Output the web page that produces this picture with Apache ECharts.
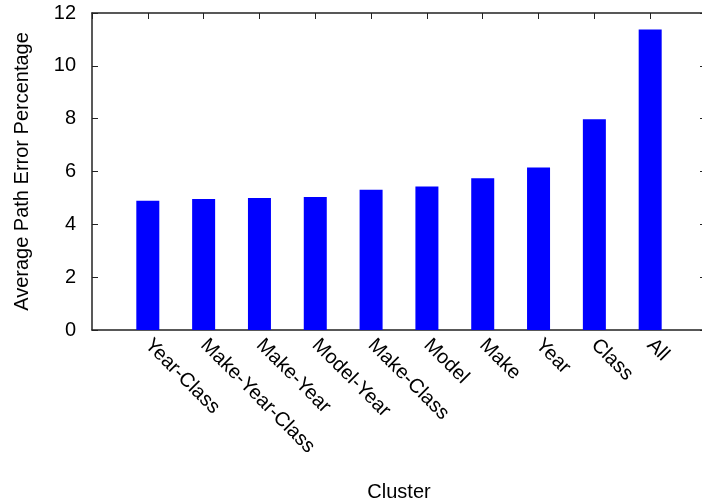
<!DOCTYPE html>
<html>
<head>
<meta charset="utf-8">
<script src="https://cdn.jsdelivr.net/npm/echarts@6/dist/echarts.min.js"></script>
<style>
  html, body { margin: 0; padding: 0; background: #fff; }
  #chart { width: 702px; height: 504px; }
</style>
</head>
<body>
<div id="chart"></div>
<script>
// clusters, in plot order
var clusters = ['Year-Class', 'Make-Year-Class', 'Make-Year', 'Model-Year', 'Make-Class', 'Model', 'Make', 'Year', 'Class', 'All'];
var avgPathError = [4.89, 4.96, 5.0, 5.03, 5.31, 5.43, 5.74, 6.15, 7.98, 11.38];
var yTicks = [0, 2, 4, 6, 8, 10, 12];

// pad one empty slot at each end so the bars sit one step in from the frame
var xData = [''].concat(clusters, ['']);
var yData = ['-'].concat(avgPathError, ['-']);

var axisColor = '#222';
var font = 'Liberation Sans, Arial, sans-serif';

var myChart = echarts.init(document.getElementById('chart'));
var options = {
  animation: false,
  textStyle: { fontFamily: font },
  grid: {
    left: 92,
    right: -4,
    top: 13,
    bottom: 174,
    containLabel: false,
    outerBoundsMode: 'none'
  },
  xAxis: [
    {
      type: 'category',
      data: xData,
      boundaryGap: false,
      name: 'Cluster',
      nameLocation: 'middle',
      nameGap: 152,
      nameTextStyle: { fontSize: 20, color: '#000', fontFamily: font },
      axisLine: { lineStyle: { color: axisColor, width: 1.5 } },
      axisTick: { show: false },
      axisLabel: {
        interval: 0,
        rotate: -45,
        margin: 12,
        fontSize: 20,
        color: '#000',
        fontFamily: font
      }
    },
    {
      type: 'category',
      data: xData,
      boundaryGap: false,
      position: 'top',
      axisLine: { onZero: false, lineStyle: { color: axisColor, width: 1.5 } },
      axisTick: { show: true, inside: true, length: 6, interval: 0, lineStyle: { color: axisColor } },
      axisLabel: { show: false, interval: 0 }
    }
  ],
  yAxis: [
    {
      type: 'value',
      min: yTicks[0],
      max: yTicks[yTicks.length - 1],
      interval: 2,
      name: 'Average Path Error Percentage',
      nameLocation: 'middle',
      nameGap: 60,
      nameTextStyle: { fontSize: 20, color: '#000', fontFamily: font },
      splitLine: { show: false },
      axisLine: { show: true, lineStyle: { color: axisColor, width: 1.5 } },
      axisTick: { show: true, inside: true, length: 6, lineStyle: { color: axisColor } },
      axisLabel: { fontSize: 20, color: '#000', margin: 16, fontFamily: font }
    },
    {
      type: 'value',
      position: 'right',
      min: yTicks[0],
      max: yTicks[yTicks.length - 1],
      interval: 2,
      splitLine: { show: false },
      axisLine: { show: true, onZero: false, lineStyle: { color: axisColor, width: 1.5 } },
      axisTick: { show: true, inside: true, length: 6, lineStyle: { color: axisColor } },
      axisLabel: { show: false }
    }
  ],
  series: [
    {
      type: 'bar',
      xAxisIndex: 0,
      yAxisIndex: 0,
      barWidth: 23,
      itemStyle: { color: '#0000ff' },
      data: yData
    }
  ]
};
myChart.setOption(options);
</script>
</body>
</html>
